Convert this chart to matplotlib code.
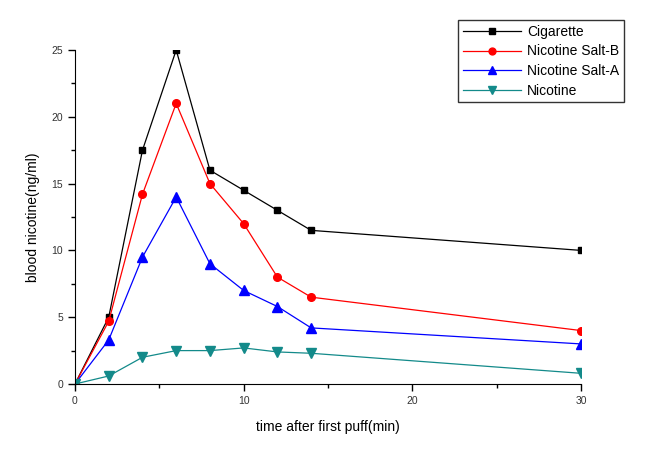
import matplotlib
matplotlib.use("Agg")
import matplotlib.pyplot as plt
from matplotlib.ticker import MultipleLocator

plt.rcParams['font.family'] = ['Liberation Sans', 'DejaVu Sans']

time_min = [0, 2, 4, 6, 8, 10, 12, 14, 30]
cigarette = [0, 5, 17.5, 25, 16, 14.5, 13, 11.5, 10]
salt_b = [0, 4.7, 14.2, 21, 15, 12, 8, 6.5, 4]
salt_a = [0, 3.3, 9.5, 14, 9, 7, 5.8, 4.2, 3]
nicotine = [0, 0.6, 2, 2.5, 2.5, 2.7, 2.4, 2.3, 0.8]

fig = plt.figure(figsize=(6.68, 4.49), dpi=100)
ax = fig.add_axes([75/668, 1-384/449, (581-75)/668, (384-50)/449])

series = [
    ("Cigarette", cigarette, "black", "s", 4.8),
    ("Nicotine Salt-B", salt_b, "red", "o", 5.5),
    ("Nicotine Salt-A", salt_a, "blue", "^", 6.5),
    ("Nicotine", nicotine, "#138a8a", "v", 6.5),
]
handles = []
for name, vals, col, mk, ms in series:
    h, = ax.plot(time_min, vals, color=col, marker=mk, markersize=ms, lw=0.9, label=name)
    handles.append(h)

ax.set_xlim(0, 30)
ax.set_ylim(0, 25)
ax.xaxis.set_major_locator(MultipleLocator(10))
ax.xaxis.set_minor_locator(MultipleLocator(5))
ax.yaxis.set_major_locator(MultipleLocator(5))
ax.yaxis.set_minor_locator(MultipleLocator(2.5))
for s in ("top", "right"):
    ax.spines[s].set_visible(False)
ax.tick_params(which="major", direction="out", length=5, width=1, labelsize=7.5, colors="black", labelcolor="#333333")
ax.tick_params(which="minor", direction="out", length=3, width=1)
ax.set_xlabel("time after first puff(min)", fontsize=10, labelpad=10)
ax.set_ylabel("blood nicotine(ng/ml)", fontsize=10, labelpad=8)

fig.legend(handles=handles, loc="upper left", bbox_to_anchor=(458/668, 1-20/449),
           borderaxespad=0,
           frameon=True, fancybox=False, edgecolor="black", fontsize=10,
           handlelength=4.2, borderpad=0.35, labelspacing=0.4, handletextpad=0.4,
           markerscale=0.9)

fig.savefig("out.png", dpi=100)
